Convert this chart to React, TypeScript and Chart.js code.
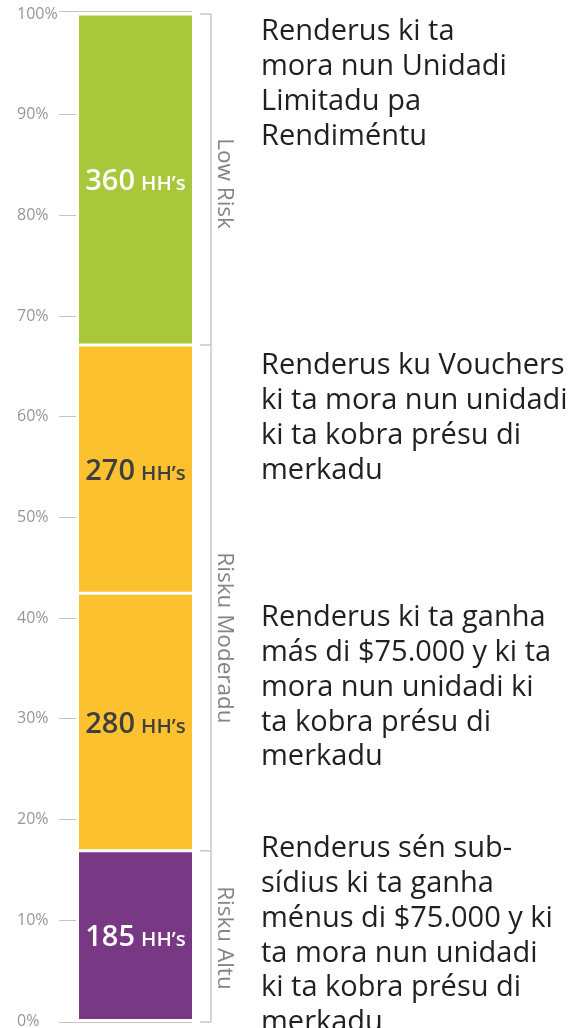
import React, { useEffect, useRef } from 'react';
import { Chart, registerables } from 'chart.js';

Chart.register(...registerables);

// ---- data ----
const segmentNames = ['Risku Altu', 'Risku Moderadu (a)', 'Risku Moderadu (b)', 'Low Risk'];
const householdCounts = [185, 280, 270, 360];
const segmentColors = ['#793883', '#FCC12E', '#FCC12E', '#A9C73B'];
const valueTextColors = ['#ffffff', '#3f3f3f', '#3f3f3f', '#ffffff'];
const unitLabel = 'HH\u2019s';
const yTickValues = [0, 10, 20, 30, 40, 50, 60, 70, 80, 90, 100];
const groupNames = ['Risku Altu', 'Risku Moderadu', 'Low Risk'];
const groupFirstSegment = [0, 1, 3];
const groupLastSegment = [0, 2, 3];
const descriptions = [
  'Renderus ki ta\nmora nun Unidadi\nLimitadu pa\nRendiméntu',
  'Renderus ku Vouchers\nki ta mora nun unidadi\nki ta kobra présu di\nmerkadu',
  'Renderus ki ta ganha\nmás di $75.000 y ki ta\nmora nun unidadi ki\nta kobra présu di\nmerkadu',
  'Renderus sén sub-\nsídius ki ta ganha\nménus di $75.000 y ki\nta mora nun unidadi\nki ta kobra présu di\nmerkadu',
];

const total = householdCounts.reduce((a, b) => a + b, 0);
const percentValues = householdCounts.map((v) => (v / total) * 100);

const FONT = '"Open Sans", "DejaVu Sans", sans-serif';

const decorPlugin = {
  id: 'decor',
  afterDatasetsDraw(chart: any) {
    const ctx = chart.ctx;
    const y = chart.scales.y;
    const area = chart.chartArea;
    const bars = chart.data.datasets.map((_: any, i: number) => chart.getDatasetMeta(i).data[0]);
    const barRight = bars[0].x + bars[0].width / 2;

    ctx.save();
    // top & bottom extent lines
    ctx.strokeStyle = '#c4c4c4';
    ctx.lineWidth = 1;
    const yTop = y.getPixelForValue(100) - 3;
    const yBot = y.getPixelForValue(0) + 1;
    ctx.beginPath();
    ctx.moveTo(area.left - 17, Math.round(yTop) + 0.5);
    ctx.lineTo(barRight, Math.round(yTop) + 0.5);
    ctx.moveTo(area.left - 17, Math.round(yBot) + 0.5);
    ctx.lineTo(barRight, Math.round(yBot) + 0.5);
    ctx.stroke();

    // bracket
    const bx = barRight + 19;
    ctx.strokeStyle = '#c8c8c8';
    ctx.lineWidth = 1.5;
    ctx.beginPath();
    ctx.moveTo(bx, y.getPixelForValue(100));
    ctx.lineTo(bx, yBot);
    const cum: number[] = [0];
    percentValues.forEach((p, i) => cum.push(cum[i] + p));
    const boundaries = [0];
    groupLastSegment.forEach((s) => boundaries.push(cum[s + 1]));
    boundaries.forEach((b, i) => {
      const py = i === 0 ? yBot : y.getPixelForValue(b);
      ctx.moveTo(bx - 11, py);
      ctx.lineTo(bx, py);
    });
    ctx.stroke();

    // group labels (rotated)
    const offsets = [2, 40, 4];
    ctx.fillStyle = '#848484';
    ctx.font = `400 22.5px ${FONT}`;
    ctx.textAlign = 'center';
    ctx.textBaseline = 'alphabetic';
    groupNames.forEach((name, g) => {
      const top = y.getPixelForValue(cum[groupLastSegment[g] + 1]);
      const bottom = y.getPixelForValue(cum[groupFirstSegment[g]]);
      const cy = (top + bottom) / 2 + offsets[g];
      ctx.save();
      ctx.translate(bx + 7, cy);
      ctx.rotate(Math.PI / 2);
      ctx.fillText(name, 0, 0);
      ctx.restore();
    });

    // value labels
    bars.forEach((bar: any, i: number) => {
      const { x, y: top, base } = bar.getProps(['x', 'y', 'base'], true);
      const cy = (top + base) / 2;
      const num = String(householdCounts[i]);
      ctx.font = `600 29px ${FONT}`;
      const w1 = ctx.measureText(num).width;
      ctx.font = `600 20.5px ${FONT}`;
      const w2 = ctx.measureText(unitLabel).width;
      const gap = 6;
      const left = x - (w1 + gap + w2) / 2;
      const baseline = cy + 10.5;
      ctx.fillStyle = valueTextColors[i];
      ctx.textAlign = 'left';
      ctx.font = `600 29px ${FONT}`;
      ctx.fillText(num, left, baseline);
      ctx.font = `600 20.5px ${FONT}`;
      ctx.fillText(unitLabel, left + w1 + gap, baseline);
    });
    ctx.restore();
  },
};

const descTops = [12.4, 346.4, 598.4, 829.4];

export default function App() {
  const ref = useRef<HTMLCanvasElement | null>(null);
  useEffect(() => {
    if (!ref.current) return;
    const chart = new Chart(ref.current, {
      type: 'bar',
      data: {
        labels: [''],
        datasets: percentValues.map((v, i) => ({
          label: segmentNames[i],
          data: [v],
          backgroundColor: segmentColors[i],
          borderColor: '#ffffff',
          borderWidth: { top: 1.5, bottom: 1.5, left: 0, right: 0 },
          borderSkipped: false,
          barPercentage: 113 / 119,
          categoryPercentage: 1,
        })),
      },
      options: {
        responsive: false,
        animation: false,
        layout: { padding: { left: 17, top: 14, right: 385, bottom: 19 } },
        plugins: { legend: { display: false }, tooltip: { enabled: false } },
        scales: {
          x: { stacked: true, display: false },
          y: {
            stacked: true,
            min: 0,
            max: 100,
            afterFit: (s: any) => {
              s.width = 59;
            },
            afterBuildTicks: (s: any) => {
              s.ticks = yTickValues.map((v) => ({ value: v }));
            },
            ticks: {
              callback: (v: any) => v + '%',
              crossAlign: 'far',
              color: '#969696',
              font: { family: FONT, size: 16, weight: '400' },
            },
            grid: {
              drawOnChartArea: false,
              tickLength: 17,
              lineWidth: 1,
              color: (c: any) =>
                c.tick && (c.tick.value === 0 || c.tick.value === 100) ? 'rgba(0,0,0,0)' : '#c4c4c4',
            },
            border: { display: false },
          },
        },
      } as any,
      plugins: [decorPlugin],
    });
    return () => chart.destroy();
  }, []);

  return (
    <div
      style={{
        position: 'fixed',
        left: 0,
        top: 0,
        width: 580,
        height: 1028,
        overflow: 'hidden',
        background: '#ffffff',
      }}
    >
      <canvas ref={ref} width={580} height={1040} style={{ position: 'absolute', left: 0, top: 0 }} />
      {descriptions.map((d, i) => (
        <div
          key={i}
          style={{
            position: 'absolute',
            left: 261,
            top: descTops[i],
            fontFamily: FONT,
            fontSize: 29,
            lineHeight: '34.7px',
            color: '#231f20',
            whiteSpace: 'pre',
          }}
        >
          {d}
        </div>
      ))}
    </div>
  );
}
